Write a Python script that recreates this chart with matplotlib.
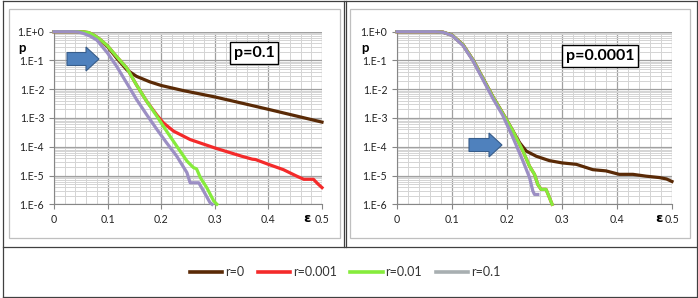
import matplotlib
matplotlib.use('Agg')
import matplotlib.pyplot as plt
from matplotlib.lines import Line2D
from matplotlib.patches import Rectangle, Polygon
from matplotlib.ticker import LogLocator, MultipleLocator, NullFormatter

plt.rcParams['font.family'] = ['Lato', 'DejaVu Sans']

W, H = 698, 298

# ---- data ----
# left panel, p=0.1
l_r0_eps = [0, 0.04, 0.05, 0.06, 0.073, 0.085, 0.1, 0.117, 0.136, 0.154, 0.179, 0.2,
            0.242, 0.3, 0.35, 0.4, 0.45, 0.5]
l_r0_p = [1, 1, 0.99, 0.93, 0.76, 0.52, 0.30, 0.12, 0.047, 0.028, 0.018, 0.0135,
          0.0089, 0.0054, 0.0033, 0.0020, 0.0012, 0.00072]

l_r001_eps = [0, 0.045, 0.055, 0.065, 0.073, 0.085, 0.1, 0.117, 0.136, 0.154, 0.173,
              0.192, 0.204, 0.223, 0.254, 0.3, 0.35, 0.37, 0.376, 0.4, 0.428, 0.453,
              0.466, 0.484, 0.492, 0.5]
l_r001_p = [1, 1, 0.99, 0.93, 0.79, 0.56, 0.32, 0.135, 0.054, 0.014, 0.0038,
            0.00126, 0.00068, 0.00035, 0.000178, 9.1e-5, 4.7e-5, 3.7e-5, 3.6e-5,
            2.45e-5, 1.6e-5, 9.5e-6, 7.4e-6, 7.4e-6, 5.2e-6, 3.8e-6]

l_r01_eps = [0, 0.045, 0.055, 0.065, 0.073, 0.085, 0.1, 0.117, 0.136, 0.154, 0.173,
             0.192, 0.21, 0.229, 0.248, 0.26, 0.266, 0.273, 0.285, 0.298, 0.304]
l_r01_p = [1, 1, 0.99, 0.93, 0.79, 0.56, 0.32, 0.135, 0.054, 0.014, 0.0038,
           0.00115, 0.00035, 0.000105, 3.2e-5, 1.9e-5, 1.7e-5, 8.5e-6, 3.8e-6,
           1.3e-6, 1e-6]

l_r1_eps = [0, 0.035, 0.045, 0.055, 0.067, 0.08, 0.1, 0.117, 0.136, 0.154, 0.173,
            0.192, 0.21, 0.229, 0.248, 0.254, 0.27, 0.279, 0.291, 0.295]
l_r1_p = [1, 1, 0.98, 0.87, 0.71, 0.51, 0.18, 0.062, 0.016, 0.0044, 0.0013,
          0.0004, 0.000138, 4.7e-5, 1.26e-5, 5.6e-6, 5.6e-6, 2.9e-6, 1.15e-6, 1e-6]

# right panel, p=0.0001
r_r0_eps = [0, 0.07, 0.084, 0.1, 0.12, 0.138, 0.156, 0.174, 0.192, 0.211, 0.223,
            0.235, 0.253, 0.277, 0.3, 0.326, 0.356, 0.38, 0.404, 0.429, 0.453,
            0.477, 0.49, 0.5]
r_r0_p = [1, 1, 0.955, 0.76, 0.35, 0.105, 0.0245, 0.0056, 0.00148, 0.000347,
          0.000138, 7.1e-5, 4.7e-5, 3.3e-5, 2.75e-5, 2.45e-5, 1.6e-5, 1.45e-5,
          1.1e-5, 1.1e-5, 9.5e-6, 8.5e-6, 7.6e-6, 6.2e-6]

r_r001_eps = [0, 0.07, 0.084, 0.1, 0.12, 0.138, 0.156, 0.174, 0.192, 0.211, 0.229,
              0.241, 0.25, 0.256, 0.262, 0.271, 0.276, 0.282]
r_r001_p = [1, 1, 0.955, 0.76, 0.35, 0.105, 0.0245, 0.0056, 0.00148, 0.000347,
            7.1e-5, 2.1e-5, 1.1e-5, 4.9e-6, 3.3e-6, 3.3e-6, 1.95e-6, 1e-6]

r_r01_eps = [0, 0.07, 0.084, 0.1, 0.12, 0.138, 0.156, 0.174, 0.192, 0.211, 0.229,
             0.241, 0.25, 0.256, 0.262, 0.271, 0.276, 0.282]
r_r01_p = [1, 1, 0.955, 0.76, 0.35, 0.105, 0.0245, 0.0056, 0.00148, 0.000347,
           7.1e-5, 2.1e-5, 1.1e-5, 4.9e-6, 3.3e-6, 3.3e-6, 1.95e-6, 1e-6]

r_r1_eps = [0, 0.07, 0.084, 0.1, 0.12, 0.138, 0.156, 0.174, 0.192, 0.211, 0.229,
            0.241, 0.247, 0.25, 0.256]
r_r1_p = [1, 1, 0.95, 0.74, 0.33, 0.098, 0.022, 0.0049, 0.00126, 0.000204,
          3.2e-5, 8.5e-6, 2.9e-6, 2.2e-6, 2.2e-6]

series_names = ['r=0', 'r=0.001', 'r=0.01', 'r=0.1']
line_colors = ['#5a2a06', '#f42a2a', '#86ec3c', '#9c8fc4']
legend_colors = ['#5a2a06', '#f42a2a', '#86ec3c', '#a8afb1']

panels = [
    ('p=0.1', [(l_r0_eps, l_r0_p), (l_r001_eps, l_r001_p), (l_r01_eps, l_r01_p), (l_r1_eps, l_r1_p)]),
    ('p=0.0001', [(r_r0_eps, r_r0_p), (r_r001_eps, r_r001_p), (r_r01_eps, r_r01_p), (r_r1_eps, r_r1_p)]),
]

ytick_vals = [1, 1e-1, 1e-2, 1e-3, 1e-4, 1e-5, 1e-6]
ytick_labels = ['1.E+0', '1.E-1', '1.E-2', '1.E-3', '1.E-4', '1.E-5', '1.E-6']
xtick_vals = [0, 0.1, 0.2, 0.3, 0.4, 0.5]
xtick_labels = ['0', '0.1', '0.2', '0.3', '0.4', '0.5']


def fx(x):
    return x / W


def fy(y):
    return 1 - y / H


fig = plt.figure(figsize=(W / 100, H / 100), dpi=100)

# plot area boxes in pixels: (left, top, right, bottom)
boxes = [(54, 31.7, 322, 204.3), (397, 31.7, 672, 204.3)]
box_text_pos = [(254, 53), (600, 56)]
p_label_pos = [(22, 48), (365, 48)]
eps_label_pos = [(307, 218), (659, 218)]
arrows = [(67, 86, 99, 59), (469, 489, 502, 145)]

for i, (title, curves) in enumerate(panels):
    l, t, r, b = boxes[i]
    ax = fig.add_axes([fx(l), fy(b), fx(r) - fx(l), fy(t) - fy(b)])
    ax.set_yscale('log')
    for (eps, p), c in zip(curves, line_colors):
        ax.plot(eps, p, color=c, lw=2.3, clip_on=False, solid_joinstyle='round', zorder=3)
    ax.set_xlim(0, 0.5)
    ax.set_ylim(1e-6, 1)
    ax.set_xticks(xtick_vals)
    ax.set_xticklabels(xtick_labels)
    ax.xaxis.set_minor_locator(MultipleLocator(0.02))
    ax.set_yticks(ytick_vals)
    ax.set_yticklabels(ytick_labels)
    ax.yaxis.set_minor_locator(LogLocator(base=10, subs=range(2, 10)))
    ax.yaxis.set_minor_formatter(NullFormatter())
    ax.grid(which='major', color='#a0a0a0', lw=0.9)
    ax.grid(which='minor', color='#d4d4d4', lw=0.7)
    ax.set_axisbelow(True)
    ax.tick_params(which='major', direction='out', length=3.5, width=0.8, color='#868686',
                   labelsize=7.6, pad=3.5, labelcolor='#222222')
    ax.tick_params(which='minor', length=0)
    for s in ['top', 'right']:
        ax.spines[s].set_visible(False)
    for s in ['left', 'bottom']:
        ax.spines[s].set_color('#868686')
        ax.spines[s].set_linewidth(0.8)

    tx, ty = box_text_pos[i]
    fig.text(fx(tx), fy(ty), title, ha='center', va='center', fontsize=11.5,
             fontweight='bold', zorder=5,
             bbox=dict(boxstyle='square,pad=0.25', fc='white', ec='black', lw=1))
    px, py = p_label_pos[i]
    fig.text(fx(px), fy(py), 'p', ha='center', va='center', fontsize=9.5, fontweight='bold')
    ex, ey = eps_label_pos[i]
    fig.text(fx(ex), fy(ey), 'ε', ha='center', va='center', fontsize=9.5, fontweight='bold',
             family=['DejaVu Sans'])

    # block arrow
    x0, xh, xt, yc = arrows[i]
    pts = [(x0, yc - 6.5), (xh, yc - 6.5), (xh, yc - 12), (xt, yc), (xh, yc + 12),
           (xh, yc + 6.5), (x0, yc + 6.5)]
    fig.add_artist(Polygon([(fx(a), fy(c)) for a, c in pts], closed=True,
                           transform=fig.transFigure, fc='#4f81bd', ec='#385d8a', lw=0.8,
                           zorder=6))

# gray chart frames
for (x0, y0, x1, y1) in [(9, 9, 340, 238), (350, 9, 690, 238)]:
    fig.add_artist(Rectangle((fx(x0), fy(y1)), fx(x1) - fx(x0), fy(y0) - fy(y1),
                             transform=fig.transFigure, fill=False, ec='#bfbfbf', lw=0.9))

# black table lines
table_lines = [((2.5, 1), (2.5, 297)), ((697, 1), (697, 297)), ((2.5, 1), (697, 1)),
               ((2.5, 297), (697, 297)), ((2.5, 246.5), (697, 246.5)),
               ((343.5, 1), (343.5, 246.5)), ((346, 1), (346, 246.5))]
for (a, b), (c, d) in table_lines:
    fig.add_artist(Line2D([fx(a), fx(c)], [fy(b), fy(d)], transform=fig.transFigure,
                          color='#404040', lw=0.9))

handles = [Line2D([], [], color=c, lw=2.6) for c in legend_colors]
fig.legend(handles, series_names, loc='center', bbox_to_anchor=(fx(345), fy(272)),
           ncol=4, frameon=False, fontsize=9, handlelength=2.6, handletextpad=0.2,
           columnspacing=1.1, labelcolor='#333333')

fig.savefig('out.png', dpi=100)
